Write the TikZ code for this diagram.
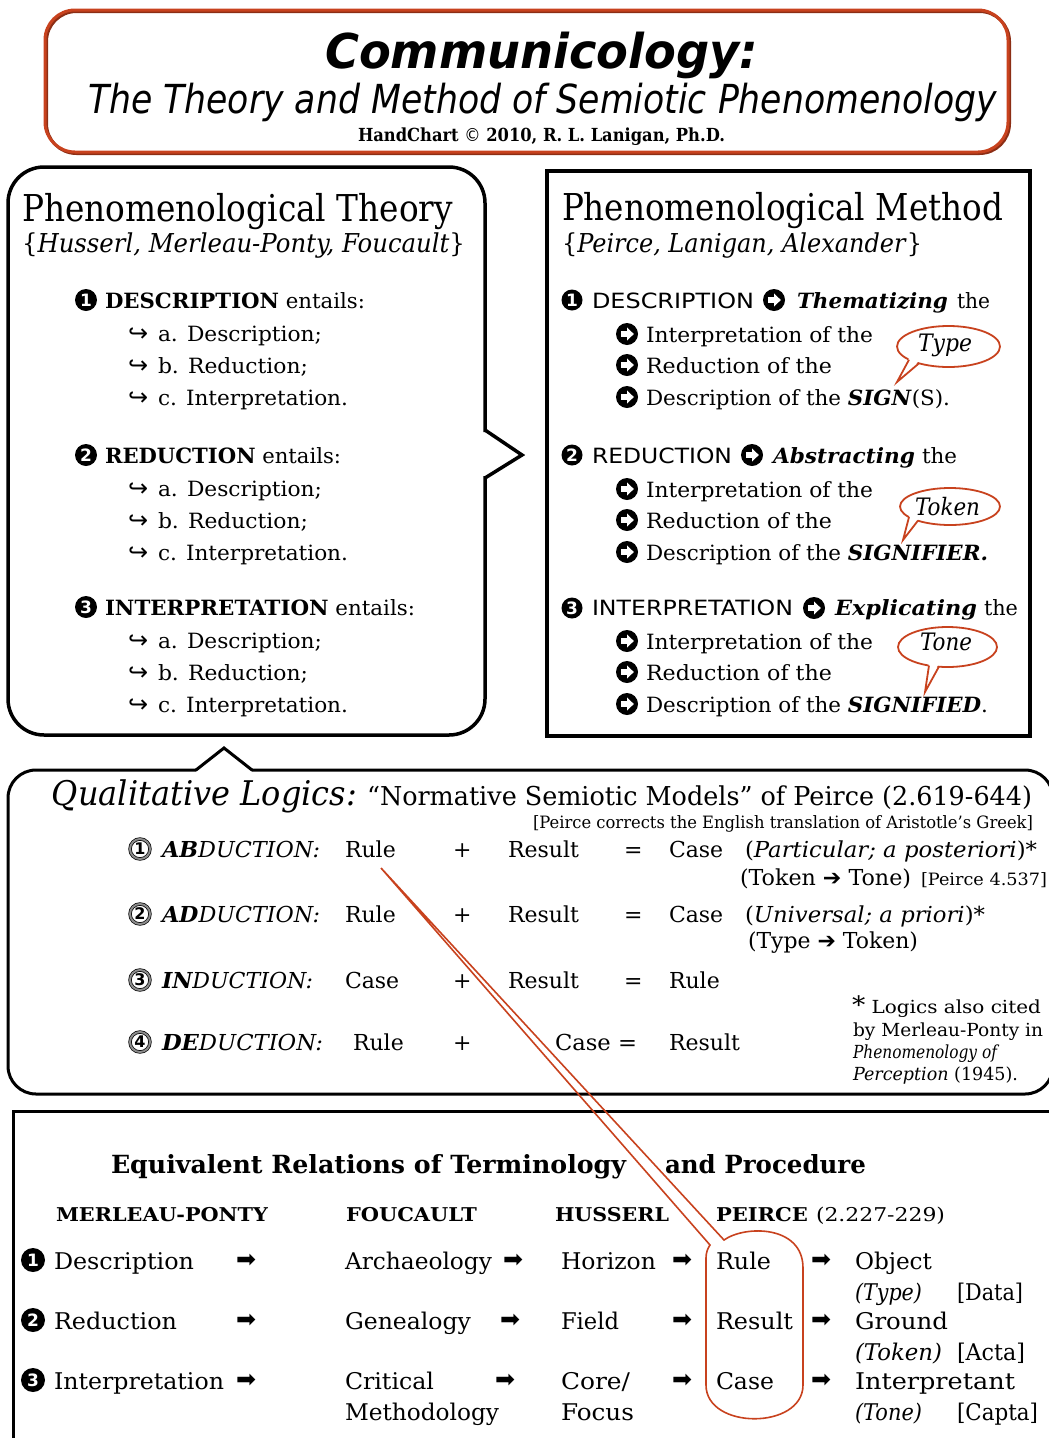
\documentclass[tikz,border=0pt]{standalone}
\usepackage{fontspec}
\usepackage{graphicx}
\setmainfont{DejaVu Serif}
\newfontfamily\sans{DejaVu Sans}
\newfontfamily\sym{DejaVu Sans}
\definecolor{rd}{HTML}{C8421E}
\newcommand\fs[1]{\fontsize{#1}{#1}\selectfont}
\newcommand\W[2]{\resizebox{#1pt}{\height}{#2}}
\newcommand\G[2]{\resizebox{#1pt}{!}{\sym #2}}
\begin{document}
\begin{tikzpicture}[x=1pt,y=-1pt,
  txt/.style={anchor=base west,inner sep=0pt,outer sep=0pt},
  ic/.style={anchor=center,inner sep=0pt,outer sep=0pt},
  blk/.style={circle,fill=black,text=white,inner sep=0pt,minimum size=#1,font=\sans\bfseries\fs{17}},
  blk/.default=22pt,
  dbl/.style={circle,draw=black,double=black!45,double distance=2pt,line width=0.7pt,inner sep=0pt,minimum size=20pt,font=\sans\bfseries\fs{16}},
  frame/.style={draw=black,line width=3.5pt},
  redline/.style={draw=rd,line width=1.8pt},
  carr/.pic={\fill[black] (0,0) circle (11);
             \fill[white] (-6,-2.8) -- (0,-2.8) -- (0,-6.6) -- (6.8,0) -- (0,6.6) -- (0,2.8) -- (-6,2.8) -- cycle;}]
\useasboundingbox (0,0) rectangle (1049,1438);
\clip (0,0) rectangle (1049,1438);

% ---------- title ----------
\draw[rd!70!black,line width=3pt,rounded corners=30pt] (46.5,11.5) rectangle (1009.5,153.5);
\draw[rd,line width=3pt,rounded corners=30pt] (45,10) rectangle (1008,152);
\node[txt] (ttl) at (325,68) {\W{433}{\sans\fs{48}\bfseries\itshape Communicology:}};
\node[txt] (sub) at (88,113) {\W{909}{\sans\fs{40}\itshape The Theory and Method of Semiotic Phenomenology}};
\node[txt] (hc) at (358,141) {\W{367}{\fs{18}\bfseries HandChart {\mdseries\sym ©} 2010, R. L. Lanigan, Ph.D.}};

% ---------- theory box ----------
\draw[frame,rounded corners=36pt] (485,432) -- (485,167) -- (8,167) -- (8,735) -- (485,735) -- (485,476);
\draw[frame,line join=miter] (485,430) -- (522,455) -- (485,478);
\node[txt] (lt1) at (22,221) {\W{431}{\fs{37}Phenomenological Theory}};
\node[txt] (lt2) at (22,252) {\W{443}{\fs{26}\{\textit{Husserl, Merleau-Ponty, Foucault}\}}};
\foreach \y/\n/\w/\lab [count=\i] in {308/1/260/DESCRIPTION, 463/2/236/REDUCTION, 615/3/310/INTERPRETATION}{
  \node[blk] (lnum\i) at (86,\y-8) {\n};
  \node[txt] (lhead\i) at (105,\y) {\W{\w}{\fs{21}\textbf{\lab} entails:}};
  \foreach \dy/\s/\sw [count=\j] in {33/{a. Description;}/164, 65/{b. Reduction;}/150, 97/{c. Interpretation.}/190}{
    \node[txt] (lhk\i\j) at (128,\y+\dy) {\sym\fs{24}↪};
    \node[txt] (lsub\i\j) at (158,\y+\dy) {\W{\sw}{\fs{21}\s}};
  }
}

% ---------- method box ----------
\draw[frame] (547,171) rectangle (1030,736);
\node[txt] (rt1) at (562,220) {\W{441}{\fs{37}Phenomenological Method}};
\node[txt] (rt2) at (562,252) {\W{360}{\fs{26}\{\textit{Peirce, Lanigan, Alexander}\}}};

\node[blk=21pt] (rn1) at (572,300) {1};
\node[txt] (rh1) at (592,308) {\W{162}{\sans\fs{21}DESCRIPTION}};
\pic (ra1) at (774,300) {carr};
\node[txt] (rv1) at (797,308) {\W{151}{\fs{21}\bfseries\itshape Thematizing}};
\node[txt] (rthe1) at (957,308) {\W{33}{\fs{21}the}};

\node[blk=21pt] (rn2) at (572,455) {2};
\node[txt] (rh2) at (592,463) {\W{140}{\sans\fs{21}REDUCTION}};
\pic (ra2) at (752,455) {carr};
\node[txt] (rv2) at (773,463) {\W{142}{\fs{21}\bfseries\itshape Abstracting}};
\node[txt] (rthe2) at (922,463) {\W{35}{\fs{21}the}};

\node[blk=21pt] (rn3) at (572,608) {3};
\node[txt] (rh3) at (592,615) {\W{201}{\sans\fs{21}INTERPRETATION}};
\pic (ra3) at (814,608) {carr};
\node[txt] (rv3) at (835,615) {\W{142}{\fs{21}\bfseries\itshape Explicating}};
\node[txt] (rthe3) at (984,615) {\W{34}{\fs{21}the}};

\foreach \y/\last/\lw [count=\i] in {
  308/{Description of the \textbf{\textit{SIGN}}(S).}/304,
  463/{Description of the \textbf{\textit{SIGNIFIER.}}}/342,
  615/{Description of the \textbf{\textit{SIGNIFIED}}.}/342}{
  \pic (rb\i a) at (627,\y+26) {carr};
  \pic (rb\i b) at (627,\y+57) {carr};
  \pic (rb\i c) at (627,\y+89) {carr};
  \node[txt] (rs\i1) at (646,\y+34) {\W{227}{\fs{21}Interpretation of the}};
  \node[txt] (rs\i2) at (646,\y+65) {\W{186}{\fs{21}Reduction of the}};
  \node[txt] (rs\i3) at (646,\y+97) {\W{\lw}{\fs{21}\last}};
}

% bubbles
\fill[white] (948.5,346.5) ellipse [x radius=51.5,y radius=20.5];
\draw[redline] (948.5,346.5) ellipse [x radius=51.5,y radius=20.5];
\fill[white] (910,356) -- (897,382) -- (920,360) -- cycle;
\draw[redline,line join=miter] (909,359.7) -- (897,382) -- (919,363.3);
\node[txt] (bt1) at (918,351) {\W{54}{\fs{24}\itshape Type}};

\fill[white] (950,506.5) ellipse [x radius=50,y radius=18.5];
\draw[redline] (950,506.5) ellipse [x radius=50,y radius=18.5];
\fill[white] (910,514) -- (903,540) -- (919,518) -- cycle;
\draw[redline,line join=miter] (909,517.1) -- (903,540) -- (917.9,520.7);
\node[txt] (bt2) at (915,515) {\W{65}{\fs{24}\itshape Token}};

\fill[white] (947.5,647) ellipse [x radius=49.5,y radius=20];
\draw[redline] (947.5,647) ellipse [x radius=49.5,y radius=20];
\fill[white] (929,662) -- (925,692) -- (939,663) -- cycle;
\draw[redline,line join=miter] (929,665.5) -- (925,692) -- (938.9,666.7);
\node[txt] (bt3) at (920,650) {\W{52}{\fs{24}\itshape Tone}};

% ---------- qualitative logics ----------
\draw[line width=3pt,rounded corners=28pt,line cap=round] (196,770) -- (8,770) -- (8,1094) -- (1053,1094) -- (1053,770) -- (252,770);
\draw[line width=3pt,line cap=round,line join=miter] (196,770) -- (224,748) -- (252,770);
\node[txt] (q1) at (52,805) {\W{305}{\fs{34}\itshape Qualitative Logics:}};
\node[txt] (q2) at (367,805) {\W{665}{\fs{26}“Normative Semiotic Models” of Peirce (2.619-644)}};
\node[txt] (q3) at (533,828) {\W{500}{\fs{17}[Peirce corrects the English translation of Aristotle’s Greek]}};

\node[dbl] (c1) at (140,849) {1};
\node[txt] (l1) at (162,857) {\W{158}{\fs{22}\itshape{\bfseries AB}DUCTION:}};
\node[txt] (l1a) at (345,857) {\fs{22}Rule};
\node[txt] (l1p) at (453,857) {\fs{22}+};
\node[txt] (l1b) at (508,857) {\fs{22}Result};
\node[txt] (l1e) at (624,857) {\fs{22}=};
\node[txt] (l1c) at (669,857) {\fs{22}Case};
\node[txt] (l1d) at (745,857) {\W{292}{\fs{22}(\textit{Particular; a posteriori})*}};
\node[txt] (l1f) at (740,885) {\W{171}{\fs{22}(Token {\sym ➔} Tone)}};
\node[txt] (l1g) at (921,885) {\W{126}{\fs{17}[Peirce 4.537]}};

\node[dbl] (c2) at (140,914) {2};
\node[txt] (l2) at (162,922) {\W{158}{\fs{22}\itshape{\bfseries AD}DUCTION:}};
\node[txt] (l2a) at (345,922) {\fs{22}Rule};
\node[txt] (l2p) at (453,922) {\fs{22}+};
\node[txt] (l2b) at (508,922) {\fs{22}Result};
\node[txt] (l2e) at (624,922) {\fs{22}=};
\node[txt] (l2c) at (669,922) {\fs{22}Case};
\node[txt] (l2d) at (745,922) {\W{240}{\fs{22}(\textit{Universal; a priori})*}};
\node[txt] (l2f) at (748,948) {\W{170}{\fs{22}(Type {\sym ➔} Token)}};

\node[dbl] (c3) at (140,980) {3};
\node[txt] (l3) at (162,988) {\W{151}{\fs{22}\itshape{\bfseries IN}DUCTION:}};
\node[txt] (l3a) at (345,988) {\fs{22}Case};
\node[txt] (l3p) at (453,988) {\fs{22}+};
\node[txt] (l3b) at (508,988) {\fs{22}Result};
\node[txt] (l3e) at (624,988) {\fs{22}=};
\node[txt] (l3c) at (669,988) {\fs{22}Rule};

\node[dbl] (c4) at (140,1042) {4};
\node[txt] (l4) at (162,1050) {\W{161}{\fs{22}\itshape{\bfseries DE}DUCTION:}};
\node[txt] (l4a) at (353,1050) {\fs{22}Rule};
\node[txt] (l4p) at (453,1050) {\fs{22}+};
\node[txt] (l4b) at (555,1050) {\W{82}{\fs{22}Case =}};
\node[txt] (l4c) at (669,1050) {\fs{22}Result};

\node[txt] (f1) at (852,1013) {\W{189}{\fs{18}{\fs{24}*} Logics also cited}};
\node[txt] (f2) at (853,1036) {\W{190}{\fs{18}by Merleau-Ponty in}};
\node[txt] (f3) at (853,1058) {\W{144}{\fs{18}\itshape Phenomenology of}};
\node[txt] (f4) at (853,1080) {\W{165}{\fs{18}\textit{Perception} (1945).}};

% ---------- equivalent relations ----------
\draw[line width=3pt] (1060,1111) -- (13,1111) -- (13,1450);
\node[txt] (e1) at (111,1173) {\W{515}{\fs{25}\bfseries Equivalent Relations of Terminology}};
\node[txt] (e2) at (665,1173) {\W{201}{\fs{25}\bfseries and Procedure}};
\node[txt] (h1) at (56,1221) {\W{212}{\fs{19}\bfseries MERLEAU-PONTY}};
\node[txt] (h2) at (346,1221) {\W{131}{\fs{19}\bfseries FOUCAULT}};
\node[txt] (h3) at (555,1221) {\W{114}{\fs{19}\bfseries HUSSERL}};
\node[txt] (h4) at (716,1221) {\W{92}{\fs{19}\bfseries PEIRCE}};
\node[txt] (h5) at (816,1221) {\W{129}{\fs{19}(2.227-229)}};

\node[blk=24pt] (m1) at (33,1260) {1};
\node[blk=24pt] (m2) at (33,1320) {2};
\node[blk=24pt] (m3) at (33,1380) {3};
\node[txt] (mp1) at (54,1269) {\W{140}{\fs{23}Description}};
\node[txt] (mp2) at (54,1329) {\W{123}{\fs{23}Reduction}};
\node[txt] (mp3) at (54,1389) {\W{170}{\fs{23}Interpretation}};
\node[txt] (fo1) at (345,1269) {\W{147}{\fs{23}Archaeology}};
\node[txt] (fo2) at (345,1329) {\W{126}{\fs{23}Genealogy}};
\node[txt] (fo3) at (345,1389) {\W{89}{\fs{23}Critical}};
\node[txt] (fo4) at (345,1420) {\W{154}{\fs{23}Methodology}};
\node[txt] (hu1) at (561,1269) {\W{95}{\fs{23}Horizon}};
\node[txt] (hu2) at (561,1329) {\W{58}{\fs{23}Field}};
\node[txt] (hu3) at (561,1389) {\W{69}{\fs{23}Core/}};
\node[txt] (hu4) at (561,1420) {\W{73}{\fs{23}Focus}};
\node[txt] (pe1) at (716,1269) {\W{55}{\fs{23}Rule}};
\node[txt] (pe2) at (716,1329) {\W{77}{\fs{23}Result}};
\node[txt] (pe3) at (716,1389) {\W{58}{\fs{23}Case}};
\node[txt] (ob1) at (855,1269) {\W{77}{\fs{23}Object}};
\node[txt] (ob2) at (855,1329) {\W{93}{\fs{23}Ground}};
\node[txt] (ob3) at (855,1389) {\W{160}{\fs{23}Interpretant}};
\node[txt] (ty1) at (855,1300) {\W{67}{\fs{23}\itshape(Type)}};
\node[txt] (ty2) at (855,1360) {\W{87}{\fs{23}\itshape(Token)}};
\node[txt] (ty3) at (855,1420) {\W{67}{\fs{23}\itshape(Tone)}};
\node[txt] (da1) at (957,1300) {\W{66}{\fs{23}[Data]}};
\node[txt] (da2) at (957,1360) {\W{68}{\fs{23}[Acta]}};
\node[txt] (da3) at (957,1420) {\W{81}{\fs{23}[Capta]}};
\foreach \yy/\ax/\bx [count=\i] in {1261/246/513, 1321/246/510, 1381/246/505}{
  \node[ic] (ar\i a) at (\ax,\yy) {\G{20}{➡}};
  \node[ic] (ar\i b) at (\bx,\yy) {\G{20}{➡}};
  \node[ic] (ar\i c) at (682,\yy) {\G{20}{➡}};
  \node[ic] (ar\i d) at (821,\yy) {\G{20}{➡}};
}

% red pill with tail reaching the Rule of abduction
\coordinate (apex) at (381,868);
\draw[rd,line width=1.6pt,line join=miter] (apex) -- (724,1240)
  .. controls (745,1225) and (803,1225) .. (803,1268) -- (803,1385)
  .. controls (803,1430) and (706,1430) .. (706,1385) -- (706,1258)
  .. controls (706,1252) and (708,1248) .. (710,1245) -- cycle;
\end{tikzpicture}
\end{document}
